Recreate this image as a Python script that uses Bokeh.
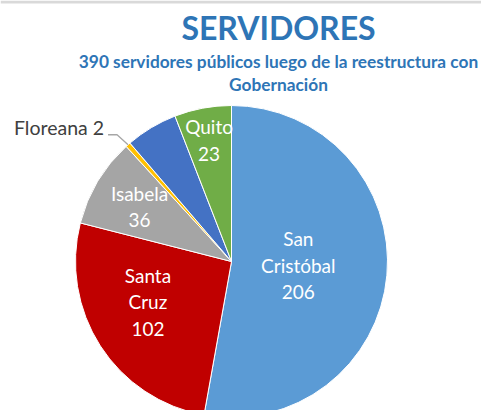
import math
from bokeh.plotting import figure
from bokeh.models import Range1d, ColumnDataSource
from bokeh.core.properties import value
from bokeh.embed import file_html
from bokeh.resources import INLINE

# ---- data ----
names = ["San Cristóbal", "Santa Cruz", "Isabela", "Floreana", "Otros", "Quito"]
values = [206, 102, 36, 2, 21, 23]
colors = ["#5B9BD5", "#C00000", "#A5A5A5", "#FFC000", "#4472C4", "#70AD47"]
label_texts = ["San\nCristóbal\n206", "Santa\nCruz\n102", "Isabela\n36", "", "", "Quito\n23"]
label_radius = [0.43, 0.60, 0.68, 0.0, 0.0, 0.78]
label_angle_shift = [0.0, -6.0, 1.0, 0.0, 0.0, 0.0]  # degrees (ccw positive)
title = "SERVIDORES"
subtitle = ["390 servidores públicos luego de la reestructura con", "Gobernación"]

W, H = 481, 410
FONT = "Lato"

def px(x):
    return x

def py(y):
    return H - y

p = figure(width=W, height=H, output_backend="svg", toolbar_location=None,
           x_range=Range1d(0, W), y_range=Range1d(0, H), min_border=0)
p.axis.visible = False
p.grid.visible = False
p.outline_line_color = None
p.background_fill_color = "white"
p.border_fill_color = "white"

# thin grey strip at the top
p.quad(left=0, right=W, top=H, bottom=H - 3, fill_color="#D9D9D9", line_color=None)

cx, cy, R = px(231), py(261), 156

total = sum(values)
starts, ends, mids = [], [], []
cum = 0
for v in values:
    a0 = math.pi / 2 - 2 * math.pi * cum / total
    cum += v
    a1 = math.pi / 2 - 2 * math.pi * cum / total
    starts.append(a0)
    ends.append(a1)
    mids.append((a0 + a1) / 2)

src = ColumnDataSource(dict(start=starts, end=ends, color=colors, name=names))
p.wedge(x=cx, y=cy, radius=R, radius_units="screen", start_angle="start", end_angle="end",
        direction="clock", fill_color="color", line_color="white", line_width=1, source=src)

# inside labels
lx, ly, lt = [], [], []
for t, f, m, s in zip(label_texts, label_radius, mids, label_angle_shift):
    if t:
        a = m + math.radians(s)
        lx.append(cx + R * f * math.cos(a))
        ly.append(cy + R * f * math.sin(a) + 2)
        lt.append(t)
p.text(x=lx, y=ly, text=lt, text_font=value(FONT), text_font_size="19px", text_color="white",
       text_align="center", text_baseline="middle", text_line_height=1.15)

# Floreana outside label with leader line
fi = names.index("Floreana")
m = mids[fi]
ex, ey = cx + R * math.cos(m), cy + R * math.sin(m)
elx, ely = ex - 11, ey + 10
enx, eny = elx - 9, ely
p.line(x=[ex, elx, enx], y=[ey, ely, eny], line_color="#A6A6A6", line_width=1.3)
p.text(x=[enx - 4], y=[eny + 7], text=[f"{names[fi]} {values[fi]}"], text_font=value(FONT),
       text_font_size="19.5px", text_color="#404040", text_align="right", text_baseline="middle")

# titles
p.text(x=[px(278)], y=[py(27)], text=[title], text_font=value(FONT), text_font_size="32px",
       text_font_style="bold", text_color="#2E75B6", text_align="center", text_baseline="middle")
p.text(x=[px(278), px(278)], y=[py(61), py(84)], text=subtitle, text_font=value(FONT),
       text_font_size="17.3px", text_font_style="bold", text_color="#2E75B6",
       text_align="center", text_baseline="middle")

open("out.html", "w").write(file_html(p, INLINE))
